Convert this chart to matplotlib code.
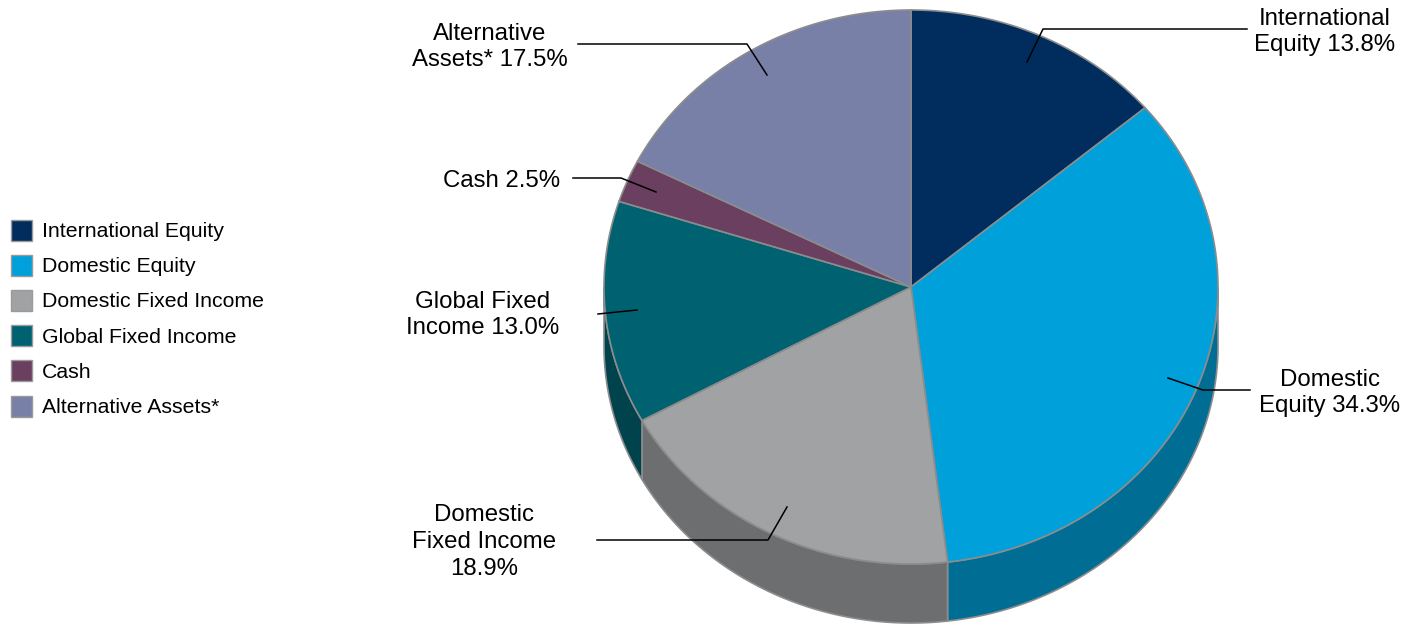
import numpy as np
import matplotlib.pyplot as plt
from matplotlib.patches import Polygon, Rectangle
from matplotlib.colors import to_rgb

plt.rcParams['font.family'] = ['Liberation Sans', 'DejaVu Sans']

# data
categories = ['International Equity', 'Domestic Equity', 'Domestic Fixed Income',
              'Global Fixed Income', 'Cash', 'Alternative Assets*']
shares = [13.8, 34.3, 18.9, 13.0, 2.5, 17.5]
label_texts = ['International\nEquity 13.8%', 'Domestic\nEquity 34.3%',
               'Domestic\nFixed Income\n18.9%', 'Global Fixed\nIncome 13.0%',
               'Cash 2.5%', 'Alternative\nAssets* 17.5%']
colors = ['#002D5D', '#00A0DB', '#A1A2A4', '#006271', '#6A3F60', '#7880A8']

# pie geometry (pixel coords)
cx, cy = 911, 287
rx, ry = 307, 277
depth = 59
edge = '#8C8C8C'

fig = plt.figure(figsize=(14.16, 6.26), dpi=100)
ax = fig.add_axes([0, 0, 1, 1])
ax.set_xlim(0, 1416)
ax.set_ylim(626, 0)
ax.axis('off')


def arc(t0, t1, dy=0):
    t = np.radians(np.linspace(t0, t1, 200))
    return np.column_stack([cx + rx * np.sin(t), cy - ry * np.cos(t) + dy])


bounds = np.concatenate([[0], np.cumsum(shares)]) * 3.6

# side walls (front half only)
for i, c in enumerate(colors):
    t0, t1 = max(bounds[i], 90), min(bounds[i + 1], 270)
    if t1 <= t0:
        continue
    side = np.array(to_rgb(c)) * 0.68
    pts = np.vstack([arc(t0, t1), arc(t0, t1, depth)[::-1]])
    ax.add_patch(Polygon(pts, closed=True, fc=side, ec=edge, lw=1.2))

# top face
for i, c in enumerate(colors):
    pts = np.vstack([[cx, cy], arc(bounds[i], bounds[i + 1])])
    ax.add_patch(Polygon(pts, closed=True, fc=c, ec=edge, lw=1.2))

# labels with leader lines
label_pos = [(1325, 32), (1330, 393), (484, 542),
             (483, 315), (502, 181), (490, 47)]
leaders = [
    [(1027, 62), (1043, 29), (1247, 29)],
    [(1168, 378), (1203, 390), (1250, 390)],
    [(787, 507), (768, 540), (597, 540)],
    [(637, 310), (598, 314)],
    [(656, 192), (621, 178), (573, 178)],
    [(767, 75), (747, 44), (578, 44)],
]
for txt, (lx, ly), ln in zip(label_texts, label_pos, leaders):
    ax.text(lx, ly, txt, ha='center', va='center', fontsize=17.3,
            linespacing=1.27, color='black')
    xs, ys = zip(*ln)
    ax.plot(xs, ys, color='black', lw=1.1)

# legend
for i, (cat, c) in enumerate(zip(categories, colors)):
    y = 230 + i * 35.2
    ax.add_patch(Rectangle((11, y - 10.5), 21, 21, fc=c, ec='#9A9A9A', lw=1))
    ax.text(42, y + 1.5, cat, ha='left', va='center', fontsize=15.3)

fig.savefig('out.png', dpi=100)
